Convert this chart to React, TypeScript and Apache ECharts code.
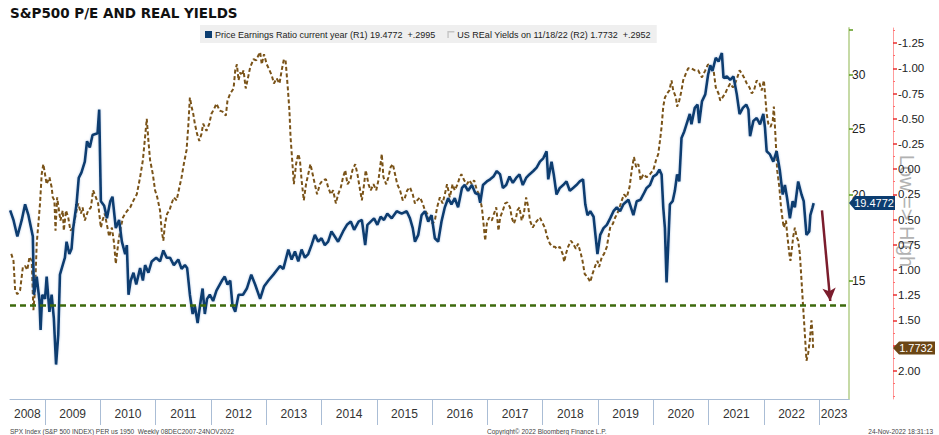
import React, { useEffect, useRef } from "react";
import * as echarts from "echarts";

const TITLE = "S&P500 P/E AND REAL YIELDS";
const PE_NAME = "Price Earnings Ratio current year (R1) 19.4772  +.2995";
const RY_NAME = "US REal Yields on 11/18/22 (R2) 1.7732  +.2952";
const FOOTER_LEFT = "SPX Index (S&P 500 INDEX) PER us 1950  Weekly 08DEC2007-24NOV2022";
const FOOTER_MID = "Copyright\u00A9 2022 Bloomberg Finance L.P.";
const FOOTER_RIGHT = "24-Nov-2022 18:31:13";
const SIDE_NOTE = "Low => High";

const X_MIN = 2008.367;
const X_MAX = 2023.539;
const YEAR_BOUNDARIES = [2009, 2010, 2011, 2012, 2013, 2014, 2015, 2016, 2017, 2018, 2019, 2020, 2021, 2022, 2023];
const YEAR_LABEL_POSITIONS = [2008.68, 2009.5, 2010.5, 2011.5, 2012.5, 2013.5, 2014.5, 2015.5, 2016.5, 2017.5, 2018.5, 2019.5, 2020.5, 2021.5, 2022.5, 2023.27];

const PE_AXIS_MIN = 10.06;
const PE_AXIS_MAX = 35.15;
const PE_TICK_LABELS = [15, 20, 25, 30];
const PE_TICKS = [15, 20, 25, 30, 35];

const RY_AXIS_MIN = -1.4;
const RY_AXIS_MAX = 2.28;
const RY_TICKS = [-1.25, -1.0, -0.75, -0.5, -0.25, 0, 0.25, 0.5, 0.75, 1.0, 1.25, 1.5, 1.75, 2.0];
const RY_TICK_LABELS = [-1.25, -1.0, -0.75, -0.5, -0.25, 0, 0.25, 0.5, 0.75, 1.0, 1.25, 1.5, 2.0];
const RY_MINOR_TICKS = [-1.375, -1.125, -0.875, -0.625, -0.375, -0.125, 0.125, 0.375, 0.625, 0.875, 1.125, 1.375, 1.625, 1.875, 2.125, 2.25];

const PE_FLOOR = 13.72;
const PE_LAST = 19.4772;
const RY_LAST = 1.7732;
const ARROW_START: [number, number] = [2023.05, 19.0];
const ARROW_END: [number, number] = [2023.2, 14.0];

// [decimal year, P/E]
const PE_RATIO: [number, number][] = [
  [2008.37, 19.0], [2008.43, 18.4], [2008.50, 17.4], [2008.58, 18.4], [2008.64, 19.4], [2008.70, 18.7], [2008.78, 17.4],
  [2008.80, 14.3], [2008.85, 15.2], [2008.90, 14.0], [2008.92, 12.7], [2008.95, 14.3], [2009.00, 14.1], [2009.03, 15.2],
  [2009.08, 13.5], [2009.12, 14.3], [2009.16, 13.2], [2009.20, 11.3], [2009.24, 12.5], [2009.27, 15.3], [2009.32, 15.8],
  [2009.36, 16.2], [2009.39, 17.1], [2009.44, 16.4], [2009.48, 16.7], [2009.51, 17.9], [2009.57, 19.4], [2009.61, 21.2],
  [2009.66, 21.6], [2009.72, 22.4], [2009.76, 24.0], [2009.81, 23.5], [2009.86, 24.5], [2009.95, 24.65], [2009.98, 26.7],
  [2010.01, 19.6], [2010.07, 19.3], [2010.12, 18.5], [2010.18, 19.6], [2010.22, 19.9], [2010.28, 17.9], [2010.34, 18.4],
  [2010.39, 17.1], [2010.45, 16.4], [2010.48, 16.9], [2010.51, 14.3], [2010.55, 15.0], [2010.60, 15.4], [2010.65, 14.8],
  [2010.72, 15.65], [2010.77, 15.0], [2010.81, 15.8], [2010.87, 15.4], [2010.93, 16.0], [2011.01, 16.2], [2011.08, 16.0],
  [2011.14, 16.6], [2011.20, 16.2], [2011.26, 16.2], [2011.33, 15.8], [2011.41, 16.1], [2011.47, 15.6], [2011.53, 15.8],
  [2011.57, 15.65], [2011.62, 14.3], [2011.67, 13.4], [2011.71, 13.75], [2011.76, 13.0], [2011.82, 14.1], [2011.85, 14.6],
  [2011.89, 13.4], [2011.93, 14.1], [2011.98, 14.3], [2012.04, 14.0], [2012.10, 14.5], [2012.20, 15.0], [2012.25, 15.2],
  [2012.30, 14.8], [2012.35, 15.0], [2012.39, 13.8], [2012.44, 13.5], [2012.50, 14.3], [2012.58, 14.3], [2012.65, 14.6],
  [2012.73, 15.3], [2012.80, 14.8], [2012.89, 14.1], [2012.96, 14.7], [2013.04, 15.0], [2013.13, 15.3], [2013.25, 15.75],
  [2013.31, 15.6], [2013.40, 16.65], [2013.46, 16.1], [2013.52, 16.55], [2013.58, 16.0], [2013.64, 16.65], [2013.70, 16.2],
  [2013.76, 16.4], [2013.82, 16.9], [2013.88, 17.5], [2013.94, 17.1], [2014.00, 17.3], [2014.06, 16.9], [2014.12, 17.1],
  [2014.18, 17.7], [2014.24, 17.4], [2014.30, 17.1], [2014.39, 17.7], [2014.46, 18.1], [2014.53, 18.3], [2014.59, 17.8],
  [2014.67, 18.3], [2014.73, 18.4], [2014.79, 16.9], [2014.83, 18.1], [2014.89, 18.3], [2014.95, 18.5], [2015.01, 18.1],
  [2015.07, 18.6], [2015.13, 18.4], [2015.19, 18.8], [2015.27, 18.5], [2015.36, 18.95], [2015.45, 18.8], [2015.54, 18.95],
  [2015.60, 18.5], [2015.65, 17.9], [2015.69, 17.1], [2015.75, 17.5], [2015.81, 18.7], [2015.87, 18.95], [2015.93, 18.3],
  [2015.99, 18.7], [2016.05, 17.3], [2016.11, 17.1], [2016.17, 18.3], [2016.23, 19.2], [2016.29, 19.8], [2016.35, 19.4],
  [2016.41, 19.8], [2016.47, 19.2], [2016.54, 20.5], [2016.59, 20.7], [2016.65, 20.3], [2016.72, 20.7], [2016.78, 20.15],
  [2016.84, 20.05], [2016.87, 19.5], [2016.92, 20.7], [2016.99, 20.95], [2017.05, 21.1], [2017.11, 21.3], [2017.17, 21.7],
  [2017.23, 21.45], [2017.28, 20.5], [2017.34, 20.7], [2017.40, 21.3], [2017.46, 20.85], [2017.52, 21.2], [2017.58, 21.45],
  [2017.64, 20.7], [2017.70, 21.2], [2017.76, 21.45], [2017.83, 21.7], [2017.89, 21.95], [2017.95, 22.4], [2018.01, 22.65],
  [2018.07, 23.2], [2018.10, 21.1], [2018.16, 22.4], [2018.20, 21.45], [2018.25, 20.05], [2018.31, 20.5], [2018.37, 20.7],
  [2018.43, 20.95], [2018.49, 20.3], [2018.55, 20.5], [2018.61, 20.7], [2018.67, 20.95], [2018.73, 21.1], [2018.77, 19.4],
  [2018.81, 18.7], [2018.86, 18.95], [2018.92, 18.6], [2018.96, 17.3], [2018.99, 16.4], [2019.04, 17.5], [2019.10, 17.9],
  [2019.16, 18.1], [2019.22, 18.5], [2019.28, 18.95], [2019.34, 19.2], [2019.40, 18.95], [2019.46, 19.4], [2019.55, 19.7],
  [2019.64, 18.7], [2019.70, 19.6], [2019.77, 19.7], [2019.82, 20.05], [2019.88, 20.5], [2019.94, 20.7], [2020.00, 21.3],
  [2020.06, 21.45], [2020.11, 21.8], [2020.15, 21.45], [2020.18, 19.2], [2020.21, 17.9], [2020.24, 14.9], [2020.27, 16.9],
  [2020.30, 19.4], [2020.35, 19.6], [2020.39, 20.3], [2020.43, 21.45], [2020.47, 20.95], [2020.51, 24.25], [2020.56, 24.8],
  [2020.60, 25.4], [2020.66, 26.3], [2020.69, 25.4], [2020.75, 26.85], [2020.80, 27.15], [2020.83, 25.5], [2020.88, 27.45],
  [2020.94, 28.1], [2020.99, 30.0], [2021.03, 31.0], [2021.07, 30.4], [2021.13, 31.8], [2021.18, 31.4], [2021.24, 32.3],
  [2021.27, 29.7], [2021.33, 29.85], [2021.39, 29.5], [2021.45, 29.85], [2021.51, 28.1], [2021.56, 26.3], [2021.62, 26.85],
  [2021.68, 27.15], [2021.72, 26.7], [2021.75, 24.4], [2021.81, 25.7], [2021.87, 25.95], [2021.93, 25.4], [2021.99, 26.3],
  [2022.02, 25.1], [2022.05, 23.2], [2022.11, 22.95], [2022.17, 22.4], [2022.23, 23.2], [2022.29, 21.7], [2022.34, 20.05],
  [2022.38, 20.7], [2022.42, 19.8], [2022.47, 18.5], [2022.52, 19.6], [2022.56, 19.2], [2022.62, 20.95], [2022.68, 20.05],
  [2022.72, 19.6], [2022.77, 17.5], [2022.82, 17.7], [2022.84, 18.7], [2022.88, 19.2], [2022.90, 19.4772],
];

// [decimal year, real yield %]
const RY_YIELDS: [number, number][] = [
  [2008.39, 0.84], [2008.43, 0.91], [2008.46, 1.20], [2008.50, 1.24], [2008.55, 1.20], [2008.60, 0.97], [2008.64, 0.96],
  [2008.68, 1.00], [2008.72, 0.87], [2008.76, 0.91], [2008.79, 1.40], [2008.82, 1.20], [2008.85, 0.74], [2008.88, 0.54],
  [2008.91, 0.34], [2008.94, 0.05], [2008.97, -0.05], [2009.00, 0.05], [2009.03, 0.15], [2009.08, 0.08], [2009.12, 0.18],
  [2009.14, 0.28], [2009.17, 0.31], [2009.19, 0.61], [2009.22, 0.28], [2009.26, 0.44], [2009.28, 0.51], [2009.32, 0.41],
  [2009.34, 0.61], [2009.38, 0.41], [2009.42, 0.48], [2009.46, 0.61], [2009.51, 0.58], [2009.56, 0.44], [2009.60, 0.34],
  [2009.65, 0.44], [2009.68, 0.38], [2009.72, 0.51], [2009.78, 0.41], [2009.83, 0.38], [2009.87, 0.21], [2009.92, 0.28],
  [2009.96, 0.34], [2010.01, 0.58], [2010.04, 0.51], [2010.08, 0.44], [2010.13, 0.58], [2010.16, 0.67], [2010.21, 0.58],
  [2010.25, 0.74], [2010.28, 0.94], [2010.33, 0.71], [2010.37, 0.58], [2010.41, 0.48], [2010.45, 0.44], [2010.49, 0.41],
  [2010.54, 0.38], [2010.60, 0.31], [2010.66, 0.25], [2010.72, 0.08], [2010.77, -0.09], [2010.81, -0.32], [2010.84, -0.50],
  [2010.87, -0.28], [2010.90, -0.09], [2010.95, 0.05], [2010.99, 0.21], [2011.03, 0.28], [2011.08, 0.41], [2011.11, 0.61],
  [2011.14, 0.71], [2011.17, 0.54], [2011.21, 0.44], [2011.25, 0.41], [2011.29, 0.34], [2011.33, 0.28], [2011.38, 0.31],
  [2011.43, 0.18], [2011.47, 0.08], [2011.51, -0.05], [2011.56, -0.19], [2011.59, -0.42], [2011.62, -0.71], [2011.65, -0.62],
  [2011.68, -0.55], [2011.71, -0.45], [2011.75, -0.35], [2011.79, -0.28], [2011.83, -0.35], [2011.86, -0.45], [2011.92, -0.38],
  [2011.97, -0.45], [2012.01, -0.55], [2012.06, -0.60], [2012.10, -0.65], [2012.16, -0.58], [2012.21, -0.57], [2012.27, -0.53],
  [2012.30, -0.68], [2012.35, -0.75], [2012.41, -0.80], [2012.44, -0.98], [2012.47, -1.04], [2012.50, -0.88], [2012.53, -0.96],
  [2012.56, -0.93], [2012.59, -0.98], [2012.63, -0.80], [2012.68, -0.93], [2012.71, -1.01], [2012.77, -1.09], [2012.82, -1.08],
  [2012.86, -1.13], [2012.89, -1.16], [2012.92, -1.04], [2012.96, -1.14], [2013.01, -1.04], [2013.06, -0.98], [2013.10, -0.93],
  [2013.14, -0.85], [2013.19, -0.90], [2013.24, -0.85], [2013.28, -0.98], [2013.32, -1.09], [2013.35, -1.08], [2013.39, -0.81],
  [2013.42, -0.58], [2013.44, -0.32], [2013.47, -0.09], [2013.50, 0.15], [2013.54, -0.05], [2013.58, -0.15], [2013.61, -0.09],
  [2013.64, 0.11], [2013.68, 0.31], [2013.72, 0.15], [2013.76, 0.05], [2013.80, -0.05], [2013.84, 0.05], [2013.88, 0.15],
  [2013.92, 0.25], [2013.97, 0.15], [2014.02, 0.11], [2014.08, 0.10], [2014.12, 0.18], [2014.17, 0.25], [2014.21, 0.21],
  [2014.26, 0.34], [2014.30, 0.25], [2014.35, 0.18], [2014.39, 0.08], [2014.43, 0.01], [2014.47, 0.15], [2014.52, 0.11],
  [2014.56, 0.01], [2014.61, -0.05], [2014.65, 0.05], [2014.68, 0.15], [2014.73, 0.31], [2014.77, 0.15], [2014.80, 0.01],
  [2014.85, 0.15], [2014.89, 0.21], [2014.94, 0.15], [2014.99, 0.21], [2015.03, 0.11], [2015.06, -0.02], [2015.09, -0.15],
  [2015.12, 0.08], [2015.17, 0.15], [2015.21, 0.08], [2015.25, -0.02], [2015.29, -0.05], [2015.33, 0.05], [2015.37, 0.15],
  [2015.42, 0.21], [2015.47, 0.31], [2015.51, 0.28], [2015.55, 0.21], [2015.60, 0.18], [2015.65, 0.25], [2015.69, 0.34],
  [2015.73, 0.31], [2015.78, 0.28], [2015.83, 0.34], [2015.87, 0.41], [2015.91, 0.44], [2015.96, 0.51], [2016.01, 0.54],
  [2016.05, 0.51], [2016.09, 0.38], [2016.14, 0.28], [2016.19, 0.34], [2016.23, 0.25], [2016.27, 0.15], [2016.32, 0.28],
  [2016.37, 0.15], [2016.41, 0.21], [2016.46, 0.15], [2016.50, 0.08], [2016.53, 0.05], [2016.58, 0.11], [2016.63, 0.15],
  [2016.67, 0.11], [2016.72, 0.15], [2016.76, 0.11], [2016.81, 0.21], [2016.85, 0.25], [2016.90, 0.38], [2016.93, 0.54],
  [2016.96, 0.71], [2016.99, 0.54], [2017.03, 0.48], [2017.08, 0.51], [2017.12, 0.44], [2017.16, 0.38], [2017.20, 0.61],
  [2017.23, 0.48], [2017.28, 0.41], [2017.32, 0.34], [2017.36, 0.33], [2017.41, 0.38], [2017.44, 0.48], [2017.48, 0.54],
  [2017.52, 0.48], [2017.54, 0.41], [2017.58, 0.38], [2017.62, 0.51], [2017.66, 0.44], [2017.70, 0.28], [2017.74, 0.38],
  [2017.77, 0.51], [2017.82, 0.58], [2017.86, 0.54], [2017.90, 0.51], [2017.95, 0.48], [2018.00, 0.54], [2018.04, 0.58],
  [2018.08, 0.67], [2018.13, 0.74], [2018.18, 0.77], [2018.22, 0.77], [2018.26, 0.79], [2018.31, 0.77], [2018.36, 0.84],
  [2018.39, 0.92], [2018.42, 0.84], [2018.46, 0.77], [2018.51, 0.71], [2018.55, 0.74], [2018.60, 0.79], [2018.64, 0.74],
  [2018.69, 0.84], [2018.72, 0.91], [2018.76, 1.04], [2018.81, 1.07], [2018.86, 1.12], [2018.90, 1.04], [2018.95, 0.96],
  [2018.99, 0.91], [2019.02, 0.97], [2019.07, 0.87], [2019.11, 0.84], [2019.16, 0.77], [2019.19, 0.67], [2019.22, 0.58],
  [2019.27, 0.54], [2019.31, 0.48], [2019.35, 0.44], [2019.39, 0.38], [2019.43, 0.31], [2019.47, 0.25], [2019.52, 0.28],
  [2019.57, 0.18], [2019.61, 0.01], [2019.65, -0.12], [2019.69, -0.02], [2019.73, -0.05], [2019.77, 0.11], [2019.82, 0.05],
  [2019.88, 0.08], [2019.94, 0.05], [2020.00, 0.01], [2020.05, -0.09], [2020.09, -0.15], [2020.12, -0.28], [2020.15, -0.42],
  [2020.18, -0.62], [2020.21, -0.71], [2020.25, -0.75], [2020.29, -0.78], [2020.33, -0.88], [2020.36, -0.78], [2020.41, -0.71],
  [2020.43, -0.62], [2020.47, -0.68], [2020.51, -0.78], [2020.54, -0.88], [2020.59, -0.95], [2020.63, -1.00], [2020.69, -1.00],
  [2020.75, -0.98], [2020.81, -0.98], [2020.88, -0.91], [2020.94, -0.98], [2020.99, -1.04], [2021.04, -1.01], [2021.09, -0.98],
  [2021.13, -0.81], [2021.18, -0.75], [2021.21, -0.68], [2021.25, -0.71], [2021.30, -0.75], [2021.34, -0.80], [2021.39, -0.85],
  [2021.44, -0.81], [2021.48, -0.85], [2021.52, -0.91], [2021.56, -0.98], [2021.60, -0.95], [2021.64, -0.91], [2021.69, -0.85],
  [2021.74, -0.81], [2021.78, -0.75], [2021.82, -0.78], [2021.87, -0.88], [2021.92, -0.85], [2021.96, -0.78], [2022.00, -0.88],
  [2022.02, -0.75], [2022.05, -0.55], [2022.08, -0.45], [2022.12, -0.42], [2022.16, -0.48], [2022.18, -0.62], [2022.21, -0.32],
  [2022.24, 0.01], [2022.28, 0.18], [2022.31, 0.38], [2022.34, 0.51], [2022.36, 0.58], [2022.40, 0.51], [2022.42, 0.64],
  [2022.46, 0.84], [2022.48, 0.91], [2022.51, 0.77], [2022.53, 0.67], [2022.56, 0.58], [2022.59, 0.67], [2022.62, 0.71],
  [2022.65, 0.84], [2022.68, 1.10], [2022.71, 1.37], [2022.74, 1.63], [2022.77, 1.90], [2022.80, 1.83], [2022.83, 1.70],
  [2022.86, 1.50], [2022.88, 1.63], [2022.89, 1.7732],
];

const FONT = "Liberation Sans";
const PE_COLOR = "#0c3d70";
const RY_COLOR = "#7a5318";
const TAG_PATH_PE = "path://M0,7L6,0L46,0L46,14L6,14Z";
const TAG_PATH_RY = "path://M0,6.5L6,0L42,0L42,13L6,13Z";
const OPEN_BOX = "path://M0,0L10,0L10,2L2,2L2,10L0,10Z";

export default function App() {
  const ref = useRef<HTMLDivElement>(null);

  useEffect(() => {
    if (!ref.current) return;
    const chart = echarts.init(ref.current, undefined, { renderer: "svg" });
    const lg = (v: number) => Math.log10(v);

    const ryAxisBase = {
      type: "value" as const,
      position: "right" as const,
      offset: 44,
      inverse: true,
      min: RY_AXIS_MIN,
      max: RY_AXIS_MAX,
      splitLine: { show: false },
    };

    chart.setOption({
      animation: false,
      backgroundColor: "#ffffff",
      title: {
        text: TITLE,
        left: 5,
        top: 1,
        textStyle: { fontSize: 13.5, fontWeight: 900, fontFamily: "DejaVu Sans", color: "#111" },
      },
      legend: {
        left: 200,
        top: 25,
        padding: [5, 6, 4, 5],
        backgroundColor: "#efefef",
        itemGap: 12,
        itemWidth: 7,
        itemHeight: 7,
        selectedMode: false,
        textStyle: { fontSize: 9, fontFamily: FONT, color: "#222", padding: [0, 0, 0, -2] },
        data: [
          { name: PE_NAME, icon: "rect", itemStyle: { color: PE_COLOR } },
          { name: RY_NAME, icon: OPEN_BOX, itemStyle: { color: "#c4c4c4" } },
        ],
      },
      grid: { left: 10, right: 90, top: 28, bottom: 36, containLabel: false, outerBoundsMode: "none" },
      xAxis: [
        {
          type: "value",
          min: X_MIN,
          max: X_MAX,
          axisLine: { show: true, onZero: false, lineStyle: { color: "#aabdd5", width: 1 } },
          axisTick: { show: true, customValues: YEAR_BOUNDARIES, length: 26, lineStyle: { color: "#aabdd5", width: 1 } },
          axisLabel: {
            customValues: YEAR_LABEL_POSITIONS,
            formatter: (v: number) => String(Math.floor(v)),
            margin: 9,
            fontSize: 12,
            fontFamily: FONT,
            color: "#333",
          },
          splitLine: { show: false },
        },
      ],
      yAxis: [
        {
          type: "value",
          position: "right",
          min: lg(PE_AXIS_MIN),
          max: lg(PE_AXIS_MAX),
          axisLine: { show: true, onZero: false, lineStyle: { color: "#c6daa6", width: 2 } },
          axisTick: { show: true, customValues: PE_TICKS.map(lg), length: 4, lineStyle: { color: "#5c9a1c", width: 1.5 } },
          axisLabel: {
            customValues: PE_TICK_LABELS.map(lg),
            formatter: (v: number) => String(Math.round(Math.pow(10, v))),
            margin: 3,
            fontSize: 12,
            fontFamily: FONT,
            color: "#222",
          },
          splitLine: { show: false },
        },
        {
          ...ryAxisBase,
          axisLine: { show: true, onZero: false, lineStyle: { color: "#ff9c9c", width: 1 } },
          axisTick: { show: true, customValues: RY_TICKS, length: 4, lineStyle: { color: "#e83030", width: 1.5 } },
          axisLabel: {
            customValues: RY_TICK_LABELS,
            formatter: (v: number) => v.toFixed(2),
            margin: 5,
            fontSize: 11.5,
            fontFamily: FONT,
            color: "#222",
          },
        },
        {
          ...ryAxisBase,
          axisLine: { show: false, onZero: false },
          axisTick: { show: true, customValues: RY_MINOR_TICKS, length: 2, lineStyle: { color: "#ff7070", width: 1 } },
          axisLabel: { show: false },
        },
      ],
      graphic: [
        {
          type: "text",
          x: 907,
          y: 211,
          rotation: -Math.PI / 2,
          z: 0,
          style: { text: SIDE_NOTE, fill: "#b2b2b2", fontSize: 20, fontFamily: FONT, align: "center", verticalAlign: "middle" },
        },
        {
          type: "text",
          x: 10,
          y: 431,
          style: { text: FOOTER_LEFT, fill: "#444", fontSize: 6.5, fontFamily: FONT, verticalAlign: "middle" },
        },
        {
          type: "text",
          x: 487,
          y: 431,
          style: { text: FOOTER_MID, fill: "#444", fontSize: 6.5, fontFamily: FONT, verticalAlign: "middle" },
        },
        {
          type: "text",
          x: 933,
          y: 431,
          style: { text: FOOTER_RIGHT, fill: "#444", fontSize: 6.5, fontFamily: FONT, align: "right", verticalAlign: "middle" },
        },
      ],
      series: [
        {
          name: RY_NAME,
          type: "line",
          yAxisIndex: 1,
          data: RY_YIELDS,
          symbol: "none",
          z: 2,
          lineStyle: { color: RY_COLOR, width: 2, type: [4, 2.5] },
          itemStyle: { color: RY_COLOR },
          markPoint: {
            silent: true,
            symbol: TAG_PATH_RY,
            symbolSize: [42, 13],
            symbolOffset: [44 + 21, 0],
            itemStyle: { color: "#6b4615" },
            label: {
              show: true,
              position: "inside",
              offset: [2, 0],
              color: "#fff",
              fontSize: 11,
              fontFamily: FONT,
              formatter: RY_LAST.toFixed(4),
            },
            data: [{ coord: [X_MAX, RY_LAST] }],
          },
        },
        {
          name: PE_NAME,
          type: "line",
          yAxisIndex: 0,
          data: PE_RATIO.map(([d, v]) => [d, lg(v)]),
          symbol: "none",
          z: 3,
          lineStyle: { color: PE_COLOR, width: 2.6, shadowColor: "rgba(90,140,200,0.45)", shadowBlur: 2 },
          itemStyle: { color: PE_COLOR },
          markLine: {
            silent: true,
            symbol: ["none", "none"],
            label: { show: false },
            data: [
              { yAxis: lg(PE_FLOOR), lineStyle: { color: "#3d6a0c", width: 2.5, type: [6, 4], shadowBlur: 0 } },
              [
                { coord: [ARROW_START[0], lg(ARROW_START[1])], symbol: "none", lineStyle: { color: "#7b1d2d", width: 2.5, type: "solid", shadowBlur: 0 } },
                { coord: [ARROW_END[0], lg(ARROW_END[1])], symbol: "arrow", symbolSize: [10, 13] },
              ],
            ],
          },
          markPoint: {
            silent: true,
            symbol: TAG_PATH_PE,
            symbolSize: [46, 14],
            symbolOffset: [23, 0],
            itemStyle: { color: PE_COLOR },
            label: {
              show: true,
              position: "inside",
              offset: [2, 0],
              color: "#fff",
              fontSize: 11,
              fontFamily: FONT,
              formatter: PE_LAST.toFixed(4),
            },
            data: [{ coord: [X_MAX, lg(PE_LAST)] }],
          },
        },
      ],
    });

    return () => chart.dispose();
  }, []);

  return (
    <div
      ref={ref}
      style={{ position: "absolute", left: 0, top: 0, width: 939, height: 435, background: "#fff" }}
    />
  );
}
